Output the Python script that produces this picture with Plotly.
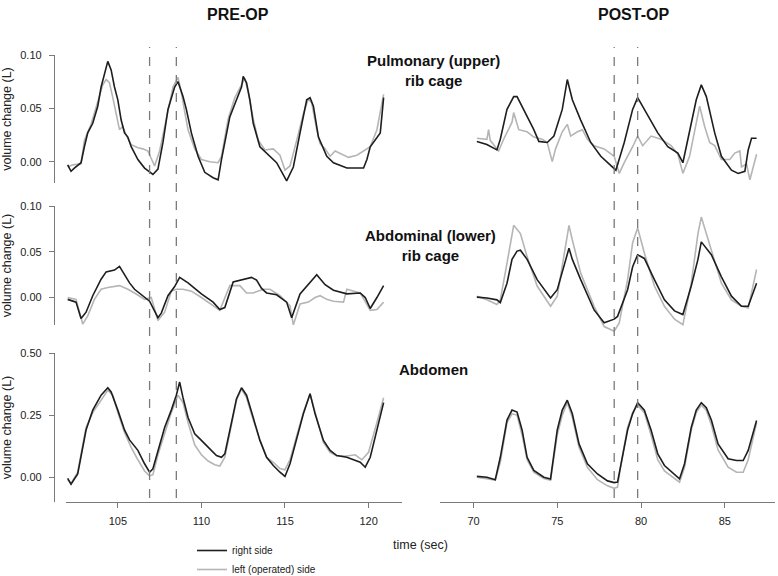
import plotly.graph_objects as go

# ---- data (time in s, volume change in L) ----
# PRE-OP, pulmonary (upper) rib cage
pre_upper_right_t = [102.0, 102.2, 102.4, 102.8, 103.0, 103.2, 103.5, 103.8, 104.0, 104.2, 104.4, 104.6, 104.8, 105.0, 105.2, 105.4, 105.6, 105.8, 106.2, 106.6, 107.1, 107.4, 107.7, 108.0, 108.4, 108.6, 108.9, 109.1, 109.4, 109.8, 110.2, 110.7, 111.0, 111.2, 111.7, 112.1, 112.4, 112.5, 112.7, 112.9, 113.1, 113.5, 113.9, 114.5, 115.1, 115.5, 115.9, 116.3, 116.5, 116.7, 117.0, 117.5, 117.9, 118.7, 119.7, 119.9, 120.1, 120.3, 120.7, 120.9]
pre_upper_right_v = [-0.003, -0.009, -0.006, -0.001, 0.014, 0.027, 0.036, 0.052, 0.070, 0.083, 0.094, 0.086, 0.070, 0.058, 0.039, 0.027, 0.023, 0.014, 0.002, -0.006, -0.012, -0.007, 0.018, 0.049, 0.070, 0.075, 0.061, 0.049, 0.027, 0.005, -0.010, -0.015, -0.017, 0.002, 0.042, 0.058, 0.070, 0.080, 0.074, 0.058, 0.036, 0.014, 0.008, -0.001, -0.018, -0.005, 0.027, 0.058, 0.060, 0.052, 0.023, 0.005, -0.001, -0.006, -0.006, 0.002, 0.014, 0.018, 0.027, 0.060]
pre_upper_left_t = [102.0, 102.3, 102.8, 103.0, 103.4, 103.8, 104.1, 104.3, 104.5, 104.7, 104.9, 105.1, 105.3, 105.5, 105.8, 106.2, 106.5, 106.8, 107.0, 107.2, 107.5, 107.9, 108.3, 108.6, 108.8, 109.0, 109.2, 109.6, 110.0, 110.5, 111.0, 111.2, 111.6, 112.0, 112.4, 112.6, 112.8, 113.1, 113.4, 113.8, 114.3, 114.7, 115.0, 115.3, 115.7, 116.1, 116.4, 116.6, 116.9, 117.1, 117.4, 117.7, 118.0, 118.3, 118.8, 119.3, 119.7, 120.1, 120.5, 120.9]
pre_upper_left_v = [-0.005, -0.003, -0.002, 0.020, 0.035, 0.055, 0.072, 0.077, 0.074, 0.060, 0.045, 0.030, 0.033, 0.025, 0.016, 0.013, 0.012, 0.010, 0.003, -0.004, 0.010, 0.040, 0.070, 0.079, 0.065, 0.047, 0.030, 0.012, 0.002, 0.000, -0.001, 0.005, 0.040, 0.060, 0.072, 0.078, 0.065, 0.040, 0.020, 0.011, 0.012, 0.006, -0.008, -0.004, 0.020, 0.045, 0.059, 0.055, 0.030, 0.017, 0.012, 0.005, 0.010, 0.008, 0.004, 0.006, 0.010, 0.014, 0.030, 0.063]

# POST-OP, pulmonary (upper) rib cage
post_upper_right_t = [70.2, 70.8, 71.4, 71.6, 72.0, 72.4, 72.6, 73.0, 73.6, 73.9, 74.4, 74.8, 75.3, 75.6, 75.9, 76.4, 77.0, 77.6, 78.2, 78.5, 79.0, 79.5, 79.8, 80.2, 81.0, 81.6, 82.2, 82.5, 82.9, 83.3, 83.6, 83.9, 84.4, 84.8, 85.4, 85.8, 86.2, 86.4, 86.6, 86.9]
post_upper_right_v = [0.019, 0.016, 0.011, 0.021, 0.049, 0.061, 0.061, 0.049, 0.030, 0.019, 0.018, 0.024, 0.049, 0.077, 0.058, 0.039, 0.018, 0.005, -0.004, -0.008, 0.018, 0.049, 0.060, 0.049, 0.027, 0.014, 0.008, -0.001, 0.027, 0.058, 0.072, 0.061, 0.027, 0.005, -0.008, -0.011, -0.009, 0.011, 0.022, 0.022]
post_upper_left_t = [70.2, 70.8, 70.9, 71.0, 71.5, 71.8, 72.3, 72.4, 72.7, 73.2, 73.6, 74.1, 74.4, 74.7, 74.9, 75.3, 75.6, 75.8, 76.2, 76.5, 76.8, 77.2, 77.8, 78.4, 78.7, 79.0, 79.5, 79.8, 80.1, 80.6, 81.2, 81.8, 82.2, 82.5, 82.9, 83.2, 83.5, 83.8, 84.1, 84.4, 84.8, 85.3, 85.6, 85.9, 86.0, 86.3, 86.5, 86.9]
post_upper_left_v = [0.022, 0.021, 0.030, 0.020, 0.010, 0.021, 0.037, 0.046, 0.030, 0.028, 0.023, 0.021, 0.018, 0.000, 0.012, 0.028, 0.035, 0.024, 0.028, 0.030, 0.021, 0.015, 0.012, 0.005, -0.011, -0.001, 0.014, 0.024, 0.015, 0.024, 0.021, 0.015, 0.007, -0.011, 0.005, 0.027, 0.052, 0.033, 0.018, 0.015, 0.002, 0.002, 0.008, 0.010, -0.005, -0.002, -0.017, 0.007]

# PRE-OP, abdominal (lower) rib cage
pre_mid_right_t = [102.0, 102.5, 102.8, 103.1, 103.5, 104.0, 104.3, 104.8, 105.1, 105.4, 105.7, 106.0, 106.4, 106.9, 107.4, 107.6, 108.0, 108.4, 108.7, 109.2, 110.0, 110.7, 111.1, 111.4, 111.9, 112.5, 113.0, 113.3, 113.6, 113.9, 114.5, 115.1, 115.4, 115.9, 116.4, 116.9, 117.4, 117.9, 118.7, 119.5, 119.8, 120.1, 120.5, 120.9]
pre_mid_right_v = [-0.002, -0.005, -0.023, -0.016, 0.002, 0.020, 0.028, 0.030, 0.034, 0.025, 0.016, 0.009, 0.003, -0.004, -0.022, -0.017, 0.002, 0.012, 0.022, 0.016, 0.004, -0.005, -0.013, -0.011, 0.017, 0.020, 0.022, 0.019, 0.010, 0.005, 0.003, -0.005, -0.022, 0.004, 0.014, 0.025, 0.014, 0.008, 0.004, 0.005, 0.000, -0.012, 0.000, 0.013]
pre_mid_left_t = [102.0, 102.5, 102.9, 103.2, 103.6, 104.0, 104.4, 105.1, 105.6, 106.0, 106.6, 107.0, 107.4, 107.8, 108.2, 108.5, 108.9, 109.4, 110.0, 110.7, 111.1, 111.7, 112.3, 112.7, 113.1, 113.7, 114.1, 114.7, 115.3, 115.5, 115.9, 116.4, 116.8, 117.1, 117.5, 117.9, 118.5, 118.7, 119.5, 120.1, 120.5, 120.9]
pre_mid_left_v = [0.000, -0.002, -0.029, -0.020, -0.002, 0.009, 0.011, 0.013, 0.009, 0.005, -0.002, 0.000, -0.025, -0.016, 0.007, 0.009, 0.009, 0.007, 0.000, -0.009, -0.014, 0.013, 0.013, 0.005, 0.005, 0.009, 0.009, 0.002, -0.009, -0.030, -0.007, -0.005, 0.000, 0.002, -0.002, -0.004, -0.005, 0.009, 0.005, -0.014, -0.013, -0.005]

# POST-OP, abdominal (lower) rib cage
post_mid_right_t = [70.2, 70.8, 71.4, 71.6, 72.0, 72.3, 72.6, 72.8, 73.0, 73.2, 73.8, 74.6, 75.0, 75.4, 75.7, 75.9, 76.4, 77.2, 77.8, 78.4, 78.6, 79.2, 79.5, 79.8, 80.2, 80.8, 81.4, 82.0, 82.5, 83.0, 83.4, 83.6, 84.2, 84.8, 85.4, 86.0, 86.4, 86.9]
post_mid_right_v = [0.001, 0.000, -0.002, -0.005, 0.016, 0.042, 0.051, 0.052, 0.047, 0.042, 0.020, 0.000, 0.009, 0.034, 0.054, 0.042, 0.020, -0.013, -0.027, -0.023, -0.020, 0.009, 0.034, 0.047, 0.043, 0.020, -0.002, -0.014, -0.018, 0.013, 0.042, 0.061, 0.047, 0.023, 0.002, -0.009, -0.009, 0.016]
post_mid_left_t = [70.2, 70.8, 71.4, 71.6, 72.0, 72.3, 72.4, 72.8, 73.2, 73.8, 74.6, 75.0, 75.4, 75.7, 75.9, 76.4, 77.2, 77.8, 78.4, 78.7, 79.2, 79.5, 79.8, 80.2, 80.8, 81.4, 82.0, 82.5, 83.0, 83.4, 83.6, 84.2, 84.8, 85.4, 86.0, 86.4, 86.9]
post_mid_left_v = [0.002, -0.002, -0.007, -0.002, 0.038, 0.067, 0.079, 0.070, 0.045, 0.013, -0.009, 0.002, 0.045, 0.079, 0.063, 0.027, -0.009, -0.031, -0.036, -0.027, 0.020, 0.060, 0.076, 0.049, 0.013, -0.009, -0.023, -0.029, 0.016, 0.070, 0.088, 0.052, 0.016, -0.002, -0.009, -0.011, 0.031]

# PRE-OP, abdomen
pre_low_right_t = [102.0, 102.2, 102.6, 103.1, 103.5, 104.0, 104.4, 104.6, 105.0, 105.4, 105.7, 106.2, 106.6, 106.9, 107.1, 107.4, 107.8, 108.2, 108.5, 108.7, 108.9, 109.2, 109.6, 110.0, 110.4, 110.9, 111.2, 111.4, 111.7, 112.1, 112.4, 112.7, 113.1, 113.5, 113.9, 114.3, 114.7, 115.0, 115.3, 115.7, 116.1, 116.5, 116.8, 117.3, 117.7, 118.1, 118.7, 119.5, 119.8, 120.1, 120.5, 120.9]
pre_low_right_v = [-0.005, -0.028, 0.013, 0.190, 0.270, 0.330, 0.360, 0.343, 0.270, 0.190, 0.150, 0.108, 0.054, 0.020, 0.034, 0.108, 0.200, 0.270, 0.330, 0.383, 0.320, 0.240, 0.175, 0.148, 0.121, 0.087, 0.080, 0.094, 0.188, 0.316, 0.360, 0.330, 0.240, 0.148, 0.080, 0.047, 0.020, 0.003, 0.054, 0.160, 0.255, 0.336, 0.255, 0.148, 0.108, 0.087, 0.080, 0.060, 0.040, 0.080, 0.188, 0.300]
pre_low_left_t = [102.0, 102.2, 102.6, 103.1, 103.5, 104.0, 104.4, 104.7, 105.0, 105.4, 105.8, 106.2, 106.6, 106.9, 107.1, 107.4, 107.8, 108.2, 108.6, 108.9, 109.2, 109.6, 110.0, 110.4, 110.8, 111.1, 111.4, 111.7, 112.1, 112.4, 112.7, 113.1, 113.5, 113.9, 114.3, 114.7, 115.0, 115.3, 115.7, 116.1, 116.5, 116.8, 117.3, 117.7, 118.1, 118.7, 119.2, 119.6, 120.0, 120.5, 120.9]
pre_low_left_v = [-0.010, -0.025, 0.020, 0.200, 0.260, 0.310, 0.350, 0.330, 0.260, 0.180, 0.120, 0.070, 0.025, 0.005, 0.010, 0.090, 0.180, 0.260, 0.330, 0.300, 0.220, 0.130, 0.090, 0.065, 0.050, 0.045, 0.080, 0.180, 0.310, 0.355, 0.320, 0.230, 0.150, 0.080, 0.060, 0.035, 0.030, 0.070, 0.170, 0.260, 0.335, 0.260, 0.140, 0.100, 0.085, 0.085, 0.090, 0.070, 0.100, 0.220, 0.320]

# POST-OP, abdomen
post_low_right_t = [70.2, 70.8, 71.3, 71.6, 72.0, 72.3, 72.6, 72.9, 73.2, 73.6, 74.2, 74.6, 75.0, 75.3, 75.6, 75.9, 76.3, 76.8, 77.4, 78.0, 78.4, 78.6, 79.2, 79.5, 79.8, 80.2, 80.6, 81.0, 81.4, 82.0, 82.3, 82.6, 83.0, 83.3, 83.6, 83.9, 84.2, 84.6, 85.2, 85.7, 86.1, 86.4, 86.9]
post_low_right_v = [0.003, 0.000, -0.010, 0.080, 0.230, 0.270, 0.262, 0.190, 0.080, 0.027, 0.000, -0.007, 0.190, 0.270, 0.310, 0.255, 0.134, 0.054, 0.013, -0.015, -0.022, -0.020, 0.190, 0.255, 0.300, 0.270, 0.190, 0.094, 0.047, 0.013, -0.007, 0.054, 0.200, 0.270, 0.300, 0.280, 0.230, 0.134, 0.074, 0.067, 0.067, 0.108, 0.228]
post_low_left_t = [70.2, 70.8, 71.3, 71.6, 72.0, 72.3, 72.6, 72.9, 73.2, 73.6, 74.2, 74.6, 75.0, 75.3, 75.6, 75.9, 76.3, 76.8, 77.4, 78.0, 78.4, 78.6, 78.8, 79.2, 79.5, 79.8, 80.2, 80.6, 81.0, 81.4, 82.0, 82.3, 82.6, 83.0, 83.3, 83.6, 83.9, 84.2, 84.6, 85.2, 85.7, 86.1, 86.4, 86.9]
post_low_left_v = [0.000, -0.005, -0.012, 0.060, 0.220, 0.255, 0.250, 0.170, 0.070, 0.020, -0.005, -0.012, 0.170, 0.250, 0.300, 0.240, 0.120, 0.040, -0.010, -0.035, -0.045, -0.040, 0.050, 0.200, 0.260, 0.290, 0.260, 0.170, 0.070, 0.025, -0.005, -0.020, 0.040, 0.190, 0.260, 0.290, 0.270, 0.210, 0.110, 0.040, 0.020, 0.020, 0.070, 0.220]

# dashed markers (s)
pre_marks = [106.9, 108.5]
post_marks = [78.4, 79.8]

# tick labels
pre_ticks = [105, 110, 115, 120]
post_ticks = [70, 75, 80, 85]
rib_ticks = [0.0, 0.05, 0.10]
abd_ticks = [0.0, 0.25, 0.50]

row_titles = ['Pulmonary (upper)<br>rib cage', 'Abdominal (lower)<br>rib cage', 'Abdomen']

DARK = '#1e1e1e'
GRAY = '#b5b5b5'
AXIS = '#7a7a7a'
FONT = 'Liberation Sans, Arial, sans-serif'

panels = [
    (1, pre_upper_left_t, pre_upper_left_v, pre_upper_right_t, pre_upper_right_v),
    (2, post_upper_left_t, post_upper_left_v, post_upper_right_t, post_upper_right_v),
    (3, pre_mid_left_t, pre_mid_left_v, pre_mid_right_t, pre_mid_right_v),
    (4, post_mid_left_t, post_mid_left_v, post_mid_right_t, post_mid_right_v),
    (5, pre_low_left_t, pre_low_left_v, pre_low_right_t, pre_low_right_v),
    (6, post_low_left_t, post_low_left_v, post_low_right_t, post_low_right_v),
]

fig = go.Figure()

for k, lt, lv, rt, rv in panels:
    ax = '' if k == 1 else str(k)
    fig.add_trace(go.Scatter(x=lt, y=lv, mode='lines', xaxis='x' + ax, yaxis='y' + ax,
                             line=dict(color=GRAY, width=1.6), name='left (operated) side',
                             legendrank=2, showlegend=(k == 1), hoverinfo='skip'))
    fig.add_trace(go.Scatter(x=rt, y=rv, mode='lines', xaxis='x' + ax, yaxis='y' + ax,
                             line=dict(color=DARK, width=1.6), name='right side',
                             legendrank=1, showlegend=(k == 1), hoverinfo='skip'))

W, H = 778, 576
def px_x(p):
    return p / W
def px_y(p):
    return 1 - p / H

left_dom = [px_x(66), px_x(402)]
right_dom = [px_x(440), px_x(775)]
pre_range = [101.9, 122]
post_range = [68, 88]

tick_font = dict(family=FONT, size=11, color='#222222')

layout_axes = {}
# x axes
for k in range(1, 7):
    name = 'xaxis' if k == 1 else 'xaxis%d' % k
    left = (k % 2 == 1)
    ax = dict(domain=left_dom if left else right_dom,
              range=pre_range if left else post_range,
              anchor='y' if k == 1 else 'y%d' % k,
              showgrid=False, zeroline=False, automargin=False)
    if k >= 5:
        ax.update(showline=True, linecolor=AXIS, linewidth=1.3, ticks='outside',
                  ticklen=5, tickcolor=AXIS, tickwidth=1.2, ticklabelstandoff=4,
                  tickvals=pre_ticks if left else post_ticks, tickfont=tick_font)
    else:
        ax.update(visible=False)
    layout_axes[name] = ax

# y axes: rows
row_dom = {1: [px_y(183), px_y(55)], 2: [px_y(325), px_y(206)], 3: [px_y(502), px_y(353)]}
row_range = {1: [-0.02, 0.10], 2: [-0.03, 0.10], 3: [-0.10, 0.50]}
row_ticks = {1: rib_ticks, 2: rib_ticks, 3: abd_ticks}

for k in range(1, 7):
    name = 'yaxis' if k == 1 else 'yaxis%d' % k
    row = (k + 1) // 2
    left = (k % 2 == 1)
    if left:
        ax = dict(domain=row_dom[row], range=row_range[row], anchor='free', position=px_x(54),
                  showgrid=False, zeroline=False, showline=True, linecolor=AXIS, linewidth=1.3,
                  ticks='outside', ticklen=5, tickcolor=AXIS, tickwidth=1.2, ticklabelstandoff=5,
                  tickvals=row_ticks[row], tickformat='.2f', tickfont=tick_font, automargin=False,
                  title=dict(text='volume change (L)', font=dict(family=FONT, size=12.5, color='#222222'),
                             standoff=4))
    else:
        dom = list(row_dom[row])
        rng = list(row_range[row])
        if row == 2:
            # same scale as the left panel, extended downward for the deeper troughs
            rng = [-0.045, 0.10]
            dom = [px_y(298 + 0.045 * 920), px_y(206)]
        ax = dict(domain=dom, range=rng, anchor='x%d' % k, visible=False,
                  showgrid=False, zeroline=False, automargin=False)
    layout_axes[name] = ax

shapes = []
for m in pre_marks:
    shapes.append(dict(type='line', xref='x5', yref='paper', x0=m, x1=m,
                       y0=px_y(498), y1=px_y(47), line=dict(color='#7a7a7a', width=1.3, dash='dash'),
                       layer='above'))
for m in post_marks:
    shapes.append(dict(type='line', xref='x6', yref='paper', x0=m, x1=m,
                       y0=px_y(498), y1=px_y(47), line=dict(color='#7a7a7a', width=1.3, dash='dash'),
                       layer='above'))

bold = dict(family=FONT, size=15, color='#111111')
annotations = [
    dict(text='<b>PRE-OP</b>', x=px_x(238), y=px_y(14), font=dict(family=FONT, size=16, color='#111111')),
    dict(text='<b>POST-OP</b>', x=px_x(633), y=px_y(14), font=dict(family=FONT, size=16, color='#111111')),
    dict(text='<b>' + row_titles[0].replace('<br>', '</b><br><b>') + '</b>', x=px_x(434), y=px_y(71), font=bold),
    dict(text='<b>' + row_titles[1].replace('<br>', '</b><br><b>') + '</b>', x=px_x(430), y=px_y(246), font=bold),
    dict(text='<b>' + row_titles[2] + '</b>', x=px_x(433), y=px_y(369), font=bold),
    dict(text='time (sec)', x=px_x(420), y=px_y(545), font=dict(family=FONT, size=12.5, color='#222222')),
]
for a in annotations:
    a.update(xref='paper', yref='paper', showarrow=False, xanchor='center', yanchor='middle')

fig.update_layout(
    width=W, height=H,
    margin=dict(l=0, r=0, t=0, b=0, autoexpand=False),
    paper_bgcolor='white', plot_bgcolor='white',
    font=dict(family=FONT, color='#222222'),
    showlegend=True,
    legend=dict(x=px_x(192), y=px_y(536), xanchor='left', yanchor='top',
                bgcolor='rgba(0,0,0,0)', traceorder='normal',
                font=dict(family='Liberation Sans Narrow, Liberation Sans, Arial', size=10, color='#222222')),
    shapes=shapes,
    annotations=annotations,
    **layout_axes,
)

# the page's default body margin would push the figure 8px right and down
fig.write_html("out.html", config={'displayModeBar': False},
               post_script="document.body.style.margin='0';")
